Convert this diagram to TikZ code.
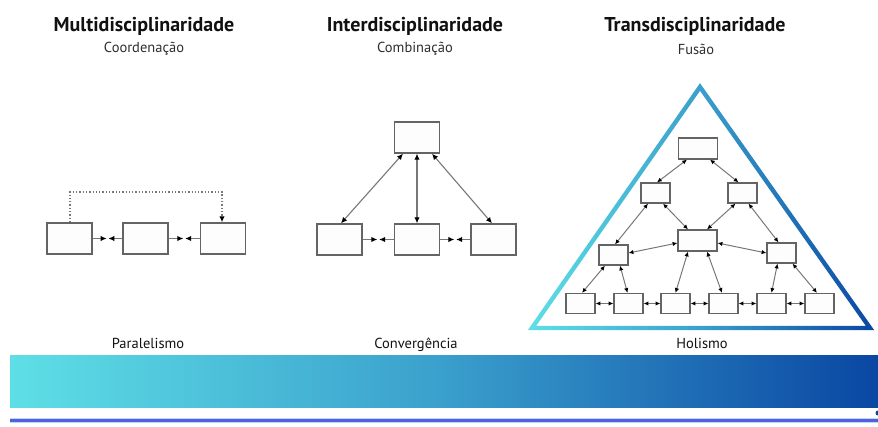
\documentclass[tikz,border=0pt]{standalone}
\usepackage{fontspec}
\setmainfont{PT Sans}
\usetikzlibrary{arrows.meta,calc}

\definecolor{ink}{HTML}{111111}
\definecolor{subink}{HTML}{2E2E2E}
\definecolor{boxline}{HTML}{646464}
\definecolor{boxfill}{HTML}{FDFDFD}
\definecolor{wire}{HTML}{777777}
\definecolor{cyanL}{HTML}{5EDFE6}
\definecolor{blueM}{HTML}{3A9FCC}
\definecolor{blueR}{HTML}{0A47A3}
\definecolor{rule}{HTML}{5E58E6}
\definecolor{ruleedge}{HTML}{A9E3F0}

\tikzset{
  title/.style={font=\bfseries\fontsize{20}{22}\selectfont, text=ink, inner sep=0pt},
  subtitle/.style={font=\fontsize{14.5}{16}\selectfont, text=subink, inner sep=0pt},
  caption/.style={font=\fontsize{14.5}{16}\selectfont, text=ink, inner sep=0pt},
  bigbox/.style={draw=boxline, line width=1.4pt, fill=boxfill, minimum width=45pt, minimum height=31pt, inner sep=0pt},
  midbox/.style={draw=boxline, line width=1.2pt, fill=boxfill, minimum width=39pt, minimum height=21pt, inner sep=0pt},
  smallbox/.style={draw=boxline, line width=1.2pt, fill=boxfill, minimum width=29pt, minimum height=20pt, inner sep=0pt},
  tip/.tip={Latex[length=6pt,width=5.5pt,black]},
  smalltip/.tip={Latex[length=4.8pt,width=4.4pt,black]},
  link/.style={draw=wire, line width=1.1pt, -tip},
  duplex/.style={draw=wire, line width=1.1pt, tip-tip},
  netlink/.style={draw=wire, line width=1pt, smalltip-smalltip},
  reach/.style={draw=wire, line width=1.3pt, dotted, -tip},
}

\begin{document}
\begin{tikzpicture}[x=1pt,y=-1pt]
\useasboundingbox (0,0) rectangle (878,427);

% ---- headings ----
\node[title]    (h1) at (144,26) {Multidisciplinaridade};
\node[subtitle] (s1) at (144,49) {Coordenação};
\node[title]    (h2) at (415,26) {Interdisciplinaridade};
\node[subtitle] (s2) at (415,49) {Combinação};
\node[title]    (h3) at (695,26) {Transdisciplinaridade};
\node[subtitle] (s3) at (696,49) {Fusão};

% ---- coordination: three boxes in a row ----
\node[bigbox] (a1) at (69.5,238.5) {};
\node[bigbox] (a2) at (145.5,238.5) {};
\node[bigbox] (a3) at (223,238.5) {};
\draw[link] (a1.east) -- ($(a1.east)!0.47!(a2.west)$);
\draw[link] (a2.west) -- ($(a2.west)!0.47!(a1.east)$);
\draw[link] (a2.east) -- ($(a2.east)!0.47!(a3.west)$);
\draw[link] (a3.west) -- ($(a3.west)!0.47!(a2.east)$);
\coordinate (d1) at (70,192);
\coordinate (d2) at (222,192);
\draw[reach] ([xshift=0.5pt]a1.north) -- (d1) -- (d2) -- ([xshift=-1pt]a3.north);

% ---- combination: one box above three ----
\node[bigbox] (bt) at (417,137.5) {};
\node[bigbox] (bl) at (339.5,239.5) {};
\node[bigbox] (bm) at (417,239.5) {};
\node[bigbox] (br) at (493.5,239.5) {};
\draw[duplex] ([xshift=-14pt]bt.south) -- ([xshift=1.5pt]bl.north);
\draw[duplex] (bt.south) -- (bm.north);
\draw[duplex] ([xshift=15pt]bt.south) -- ([xshift=-1.5pt]br.north);
\draw[link] (bl.east) -- ($(bl.east)!0.47!(bm.west)$);
\draw[link] (bm.west) -- ($(bm.west)!0.47!(bl.east)$);
\draw[link] (bm.east) -- ($(bm.east)!0.47!(br.west)$);
\draw[link] (br.west) -- ($(br.west)!0.47!(bm.east)$);

% ---- fusion: network inside a shaded triangle ----
\coordinate (tA) at (700,87);
\coordinate (tB) at (532,328);
\coordinate (tC) at (870,328);
\coordinate (tI) at (700.4,240.1);
\shade[left color=cyanL, right color=blueR, middle color=blueM, even odd rule]
  ($(tI)!1.025!(tA)$) -- ($(tI)!1.025!(tB)$) -- ($(tI)!1.025!(tC)$) -- cycle
  ($(tI)!0.975!(tA)$) -- ($(tI)!0.975!(tB)$) -- ($(tI)!0.975!(tC)$) -- cycle;

\node[midbox]   (nT)  at (698,148.5) {};
\node[smallbox] (nL)  at (655.5,193) {};
\node[smallbox] (nR)  at (742.5,193) {};
\node[midbox]   (nC)  at (697.5,240.5) {};
\node[smallbox] (mL)  at (613.5,255) {};
\node[smallbox] (mR)  at (781.5,253) {};
\foreach \i/\x in {1/580.5,2/628.5,3/675.5,4/723.5,5/771.5,6/819.5}
  \node[smallbox] (q\i) at (\x,303.5) {};

\draw[netlink] ([xshift=-11pt]nT.south) -- ([xshift=1.5pt]nL.north);
\draw[netlink] ([xshift=12pt]nT.south) -- ([xshift=-4pt]nR.north);
\draw[netlink] ([xshift=-7.5pt]nL.south) -- ([xshift=1.5pt]mL.north);
\draw[netlink] ([xshift=7.5pt]nL.south) -- ([xshift=-9.5pt]nC.north);
\draw[netlink] ([xshift=-7pt]nR.south) -- ([xshift=9.5pt]nC.north);
\draw[netlink] ([xshift=6pt]nR.south) -- ([xshift=-3pt]mR.north);
\draw[netlink] ([yshift=-2.5pt]nC.west) -- ([yshift=2pt]mL.east);
\draw[netlink] ([yshift=-2.5pt]nC.east) -- (mR.west);
\draw[netlink] ([xshift=-8.5pt]mL.south) -- ([xshift=1.5pt]q1.north);
\draw[netlink] ([xshift=6.5pt]mL.south) -- ([xshift=-1pt]q2.north);
\draw[netlink] ([xshift=-9.5pt]nC.south) -- (q3.north);
\draw[netlink] ([xshift=9.5pt]nC.south) -- ([xshift=-1.5pt]q4.north);
\draw[netlink] ([xshift=-4pt]mR.south) -- (q5.north);
\draw[netlink] ([xshift=11pt]mR.south) -- ([xshift=-2.5pt]q6.north);
\foreach \a/\b in {1/2,2/3,3/4,4/5,5/6}
  \draw[netlink] (q\a.east) -- (q\b.west);

% ---- scale captions ----
\node[caption] (c1) at (148,343) {Paralelismo};
\node[caption] (c2) at (416,345) {Convergência};
\node[caption] (c3) at (702,343) {Holismo};

% ---- gradient band and rule ----
\shade[left color=cyanL, right color=blueR, middle color=blueM] (10,356) rectangle (878,407);
\draw[ruleedge, line width=4.5pt] (10,420.5) -- (878,420.5);
\draw[rule, line width=2.5pt] (10,420.5) -- (878,420.5);
\fill[blueR] (878,413) circle (2.5);
\end{tikzpicture}
\end{document}
